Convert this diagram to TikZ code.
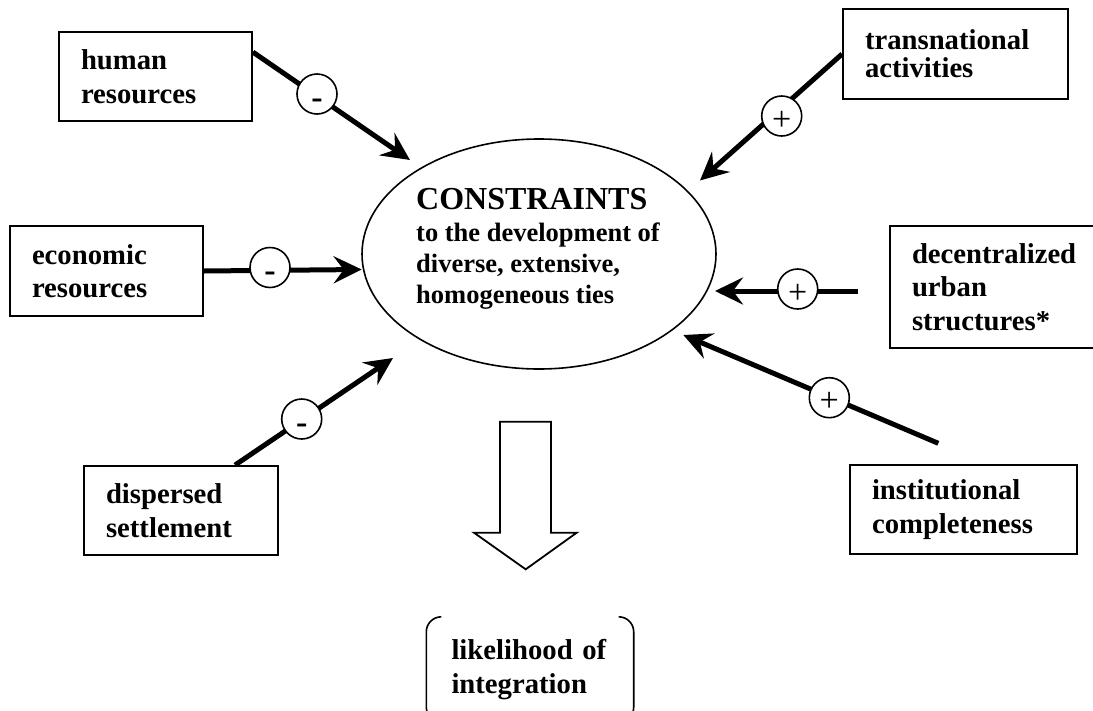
\documentclass[tikz,border=0pt]{standalone}
\usepackage{fontspec}
\setmainfont{Liberation Serif}
\usetikzlibrary{arrows.meta,shapes.geometric}
\begin{document}
\begin{tikzpicture}[x=1pt,y=-1pt,
  factor/.style={draw, line width=1.8pt, rectangle, inner xsep=22pt, inner ysep=0pt,
    align=left, font=\bfseries\fontsize{28.7}{33.5}\selectfont},
  sign/.style={circle, draw, line width=1.6pt, fill=white, minimum size=40pt,
    inner sep=0pt, text height=28pt, text depth=0pt, font=\fontsize{34}{34}\selectfont},
  conn/.style={line width=5pt, -{Stealth[length=28pt,width=27pt,inset=10pt]}},
  thin/.style={line width=1.6pt}
]
\useasboundingbox (0,0) rectangle (1093,710);

% central ellipse and its text
\node[draw, ellipse, thin, minimum width=354pt, minimum height=230pt, inner sep=0pt] (c) at (539,254) {};
\node[align=left, font=\bfseries\fontsize{26.5}{31.2}\selectfont] (ct) at (538,249)
  {{\fontsize{32}{31.2}\selectfont CONSTRAINTS}\\to the development of\\diverse, extensive,\\homogeneous ties};

% factor boxes
\node[factor, text width=149pt, minimum height=89pt] (hr) at (155.5,76.5) {human\\resources};
\node[factor, text width=181pt, minimum height=90pt,
      font=\bfseries\fontsize{28.7}{28}\selectfont] (tr) at (955.5,54) {transnational\\activities};
\node[factor, text width=149pt, minimum height=90pt] (ec) at (106.5,271) {economic\\resources};
\node[factor, text width=186pt, minimum height=122pt] (dc) at (1005,287) {decentralized\\urban\\structures*};
\node[factor, text width=150pt, minimum height=89pt] (ds) at (181,510.5) {dispersed\\settlement};
\node[factor, text width=183pt, minimum height=89pt] (in) at (963.5,509.5) {institutional\\completeness};

% arrow ends
\coordinate (hrtip) at (410,160);
\coordinate (trtip) at (700,180.5);
\coordinate (ectip) at (361.7,269.5);
\coordinate (dcstart) at (858,291);
\coordinate (dctip) at (715,291);
\coordinate (instart) at (938.3,443.3);
\coordinate (intip) at (683.3,335);
\coordinate (dstip) at (393,358);

% influence arrows
\draw[conn] ([yshift=-21pt]hr.north east) -- (hrtip);
\draw[conn] (tr.west) -- (trtip);
\draw[conn] (ec.east) -- (ectip);
\draw[conn] (dcstart) -- (dctip);
\draw[conn] (instart) -- (intip);
\draw[conn] ([xshift=54pt]ds.north) -- (dstip);

% signs on the arrows
\node[sign] (s1) at (317,94) {\bfseries -};
\node[sign] (s2) at (781.7,116) {+};
\node[sign] (s3) at (270,267.5) {\bfseries -};
\node[sign] (s4) at (797.7,289) {+};
\node[sign] (s5) at (829.3,397.7) {+};
\node[sign] (s6) at (301.7,419) {\bfseries -};

% hollow block arrow
\draw[line width=1.8pt, line join=miter] (500,421.7) -- (551,421.7) -- (551,532.7) -- (576.7,532.7)
  -- (525.7,569.3) -- (474,532.7) -- (500,532.7) -- cycle;

% outcome in brackets
\node[align=left, text width=157pt, inner xsep=25pt, inner ysep=0pt, minimum height=105pt,
      font=\bfseries\fontsize{28.7}{33.5}\selectfont] (lk) at (530,669.5) {likelihood of\\integration};
\draw[thin, rounded corners=15pt] ([xshift=15pt]lk.north west) -- (lk.north west)
  -- (lk.south west) -- ([xshift=15pt]lk.south west);
\draw[thin, rounded corners=15pt] ([xshift=-15pt]lk.north east) -- (lk.north east)
  -- (lk.south east) -- ([xshift=-15pt]lk.south east);
\end{tikzpicture}
\end{document}
